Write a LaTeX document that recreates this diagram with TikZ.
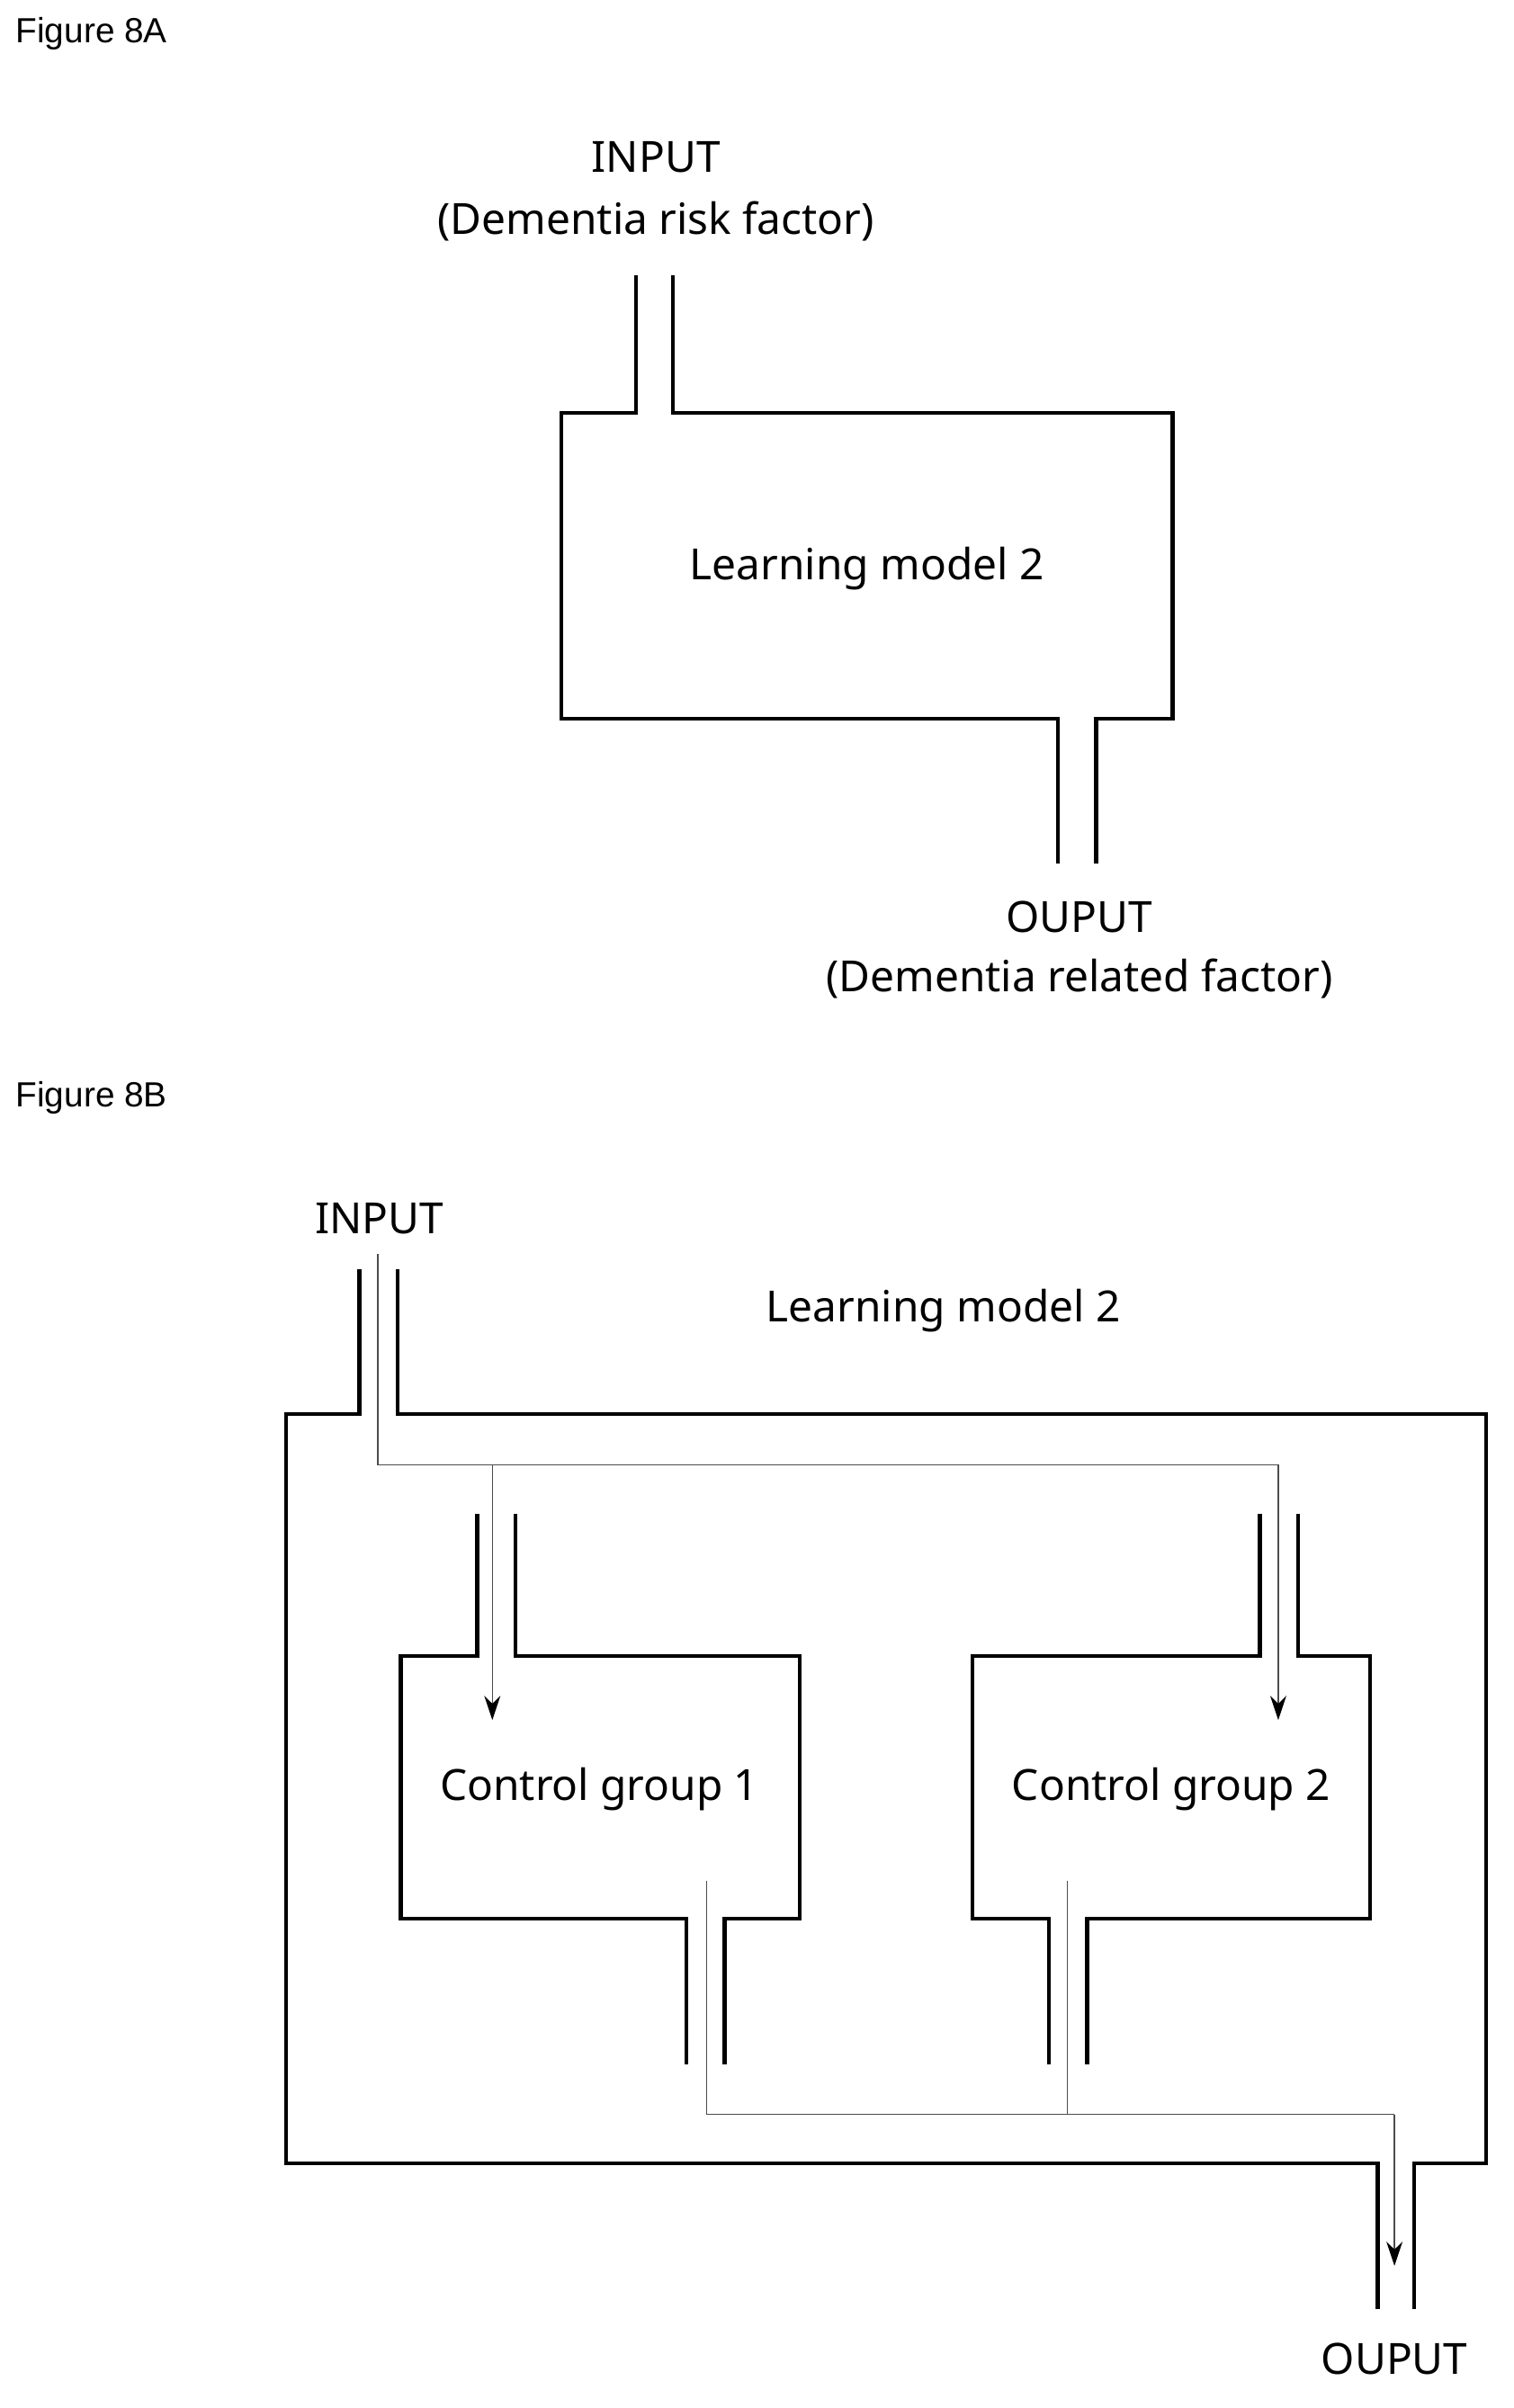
\documentclass[tikz,border=0pt]{standalone}
\usepackage{fontspec}
\setmainfont{Noto Sans}
\newfontfamily\figfont{Liberation Sans}
\usetikzlibrary{arrows.meta}
\tikzset{
  wall/.style={line width=1.5pt, line join=miter},
  flow/.style={line width=0.5pt, black!70},
  flowarr/.style={flow, -{Stealth[length=9pt,width=6pt,black]}},
  lbl/.style={font=\fontsize{16}{19}\selectfont, inner sep=0pt},
  figcap/.style={font=\figfont\fontsize{13}{16}\selectfont, anchor=west, inner sep=0pt}
}
\begin{document}
\begin{tikzpicture}[x=0.02cm,y=-0.02cm]
\useasboundingbox (0,0) rectangle (990,1575);
% figure 8A
\node[figcap] (capA) at (10,22) {Figure 8A};
\node[lbl] (inA) at (429,103) {INPUT};
\node[lbl] (inAsub) at (429,145) {(Dementia risk factor)};
\draw[wall] (416,180) -- (416,270) -- (367,270) -- (367,470) -- (692,470) -- (692,565);
\draw[wall] (440,180) -- (440,270) -- (767,270) -- (767,470) -- (717,470) -- (717,565);
\node[lbl] (modelA) at (567,372) {Learning model 2};
\node[lbl] (outA) at (706,600) {OUPUT};
\node[lbl] (outAsub) at (706,640) {(Dementia related factor)};
% figure 8B
\node[figcap] (capB) at (10,718) {Figure 8B};
\node[lbl] (inB) at (248,797) {INPUT};
\node[lbl] (modelB) at (617,857) {Learning model 2};
\node[lbl] (outB) at (912,1543) {OUPUT};
% outer box
\draw[wall] (235,830) -- (235,925) -- (187,925) -- (187,1415) -- (901,1415) -- (901,1510);
\draw[wall] (260,830) -- (260,925) -- (972,925) -- (972,1415) -- (925,1415) -- (925,1510);
% control group 1
\draw[wall] (312,990) -- (312,1083) -- (262,1083) -- (262,1255) -- (449,1255) -- (449,1350);
\draw[wall] (337,990) -- (337,1083) -- (523,1083) -- (523,1255) -- (474,1255) -- (474,1350);
\node[lbl] (cg1) at (392,1170) {Control group 1};
% control group 2
\draw[wall] (824,990) -- (824,1083) -- (636,1083) -- (636,1255) -- (686,1255) -- (686,1350);
\draw[wall] (849,990) -- (849,1083) -- (896,1083) -- (896,1255) -- (711,1255) -- (711,1350);
\node[lbl] (cg2) at (766,1170) {Control group 2};
% flow lines
\coordinate (src) at (247,820);
\coordinate (split) at (247,958);
\coordinate (j1) at (322,958);
\coordinate (j2) at (836,958);
\coordinate (t1) at (322,1125);
\coordinate (t2) at (836,1125);
\coordinate (o1) at (462,1230);
\coordinate (o2) at (698,1230);
\coordinate (m1) at (462,1383);
\coordinate (m2) at (698,1383);
\coordinate (m3) at (912,1383);
\coordinate (sink) at (912,1482);
\draw[flow] (src) -- (split) -- (j2);
\draw[flowarr] (j1) -- (t1);
\draw[flowarr] (j2) -- (t2);
\draw[flow] (o1) -- (m1) -- (m3);
\draw[flow] (o2) -- (m2);
\draw[flowarr] (m3) -- (sink);
\end{tikzpicture}
\end{document}
